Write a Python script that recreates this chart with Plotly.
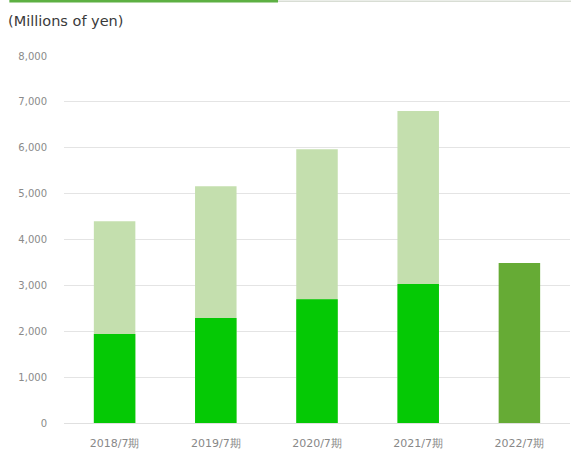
import plotly.graph_objects as go

# Fiscal periods and values (millions of yen)
periods = ["2018/7期", "2019/7期", "2020/7期", "2021/7期", "2022/7期"]
total_values = [4400, 5160, 5970, 6800, None]
base_values = [1940, 2290, 2700, 3030, 3490]
base_colors = ["#05c905", "#05c905", "#05c905", "#05c905", "#66ab35"]
y_ticks = [0, 1000, 2000, 3000, 4000, 5000, 6000, 7000, 8000]

fig = go.Figure()
fig.add_trace(go.Bar(
    x=periods, y=total_values, marker=dict(color="#c4dfae", line=dict(width=0)),
    width=0.41, hoverinfo="y", showlegend=False,
))
fig.add_trace(go.Bar(
    x=periods, y=base_values, marker=dict(color=base_colors, line=dict(width=0)),
    width=0.41, hoverinfo="y", showlegend=False,
))

fig.update_layout(
    width=571, height=453,
    margin=dict(l=64, r=1, t=56, b=30),
    barmode="overlay",
    plot_bgcolor="white", paper_bgcolor="white",
    font=dict(family="DejaVu Sans", color="#888888", size=10),
    xaxis=dict(showgrid=False, showline=False, ticks="",
               ticklabelstandoff=12,
               tickfont=dict(size=11, color="#888888")),
    yaxis=dict(range=[0, 8000], tickvals=y_ticks, tickformat=",",
               showgrid=True, gridcolor="#e4e4e4", gridwidth=1,
               zeroline=True, zerolinecolor="#e0e0e0", zerolinewidth=1,
               ticks="", ticklabelstandoff=16,
               tickfont=dict(size=10, color="#8a8a8a")),
    annotations=[dict(
        text="(Millions of yen)", xref="paper", yref="paper",
        x=-0.115, y=1.095, xanchor="left", yanchor="middle", showarrow=False,
        font=dict(size=14.5, color="#3a3a3a", family="DejaVu Sans"),
    )],
    shapes=[
        dict(type="line", xref="paper", yref="paper", x0=-0.108, x1=0.423,
             y0=1.149, y1=1.149, line=dict(color="#5db043", width=2.5)),
        dict(type="line", xref="paper", yref="paper", x0=0.423, x1=1.01,
             y0=1.149, y1=1.149, line=dict(color="#d8ddd4", width=1.5)),
    ],
)

fig.write_html("out.html")
